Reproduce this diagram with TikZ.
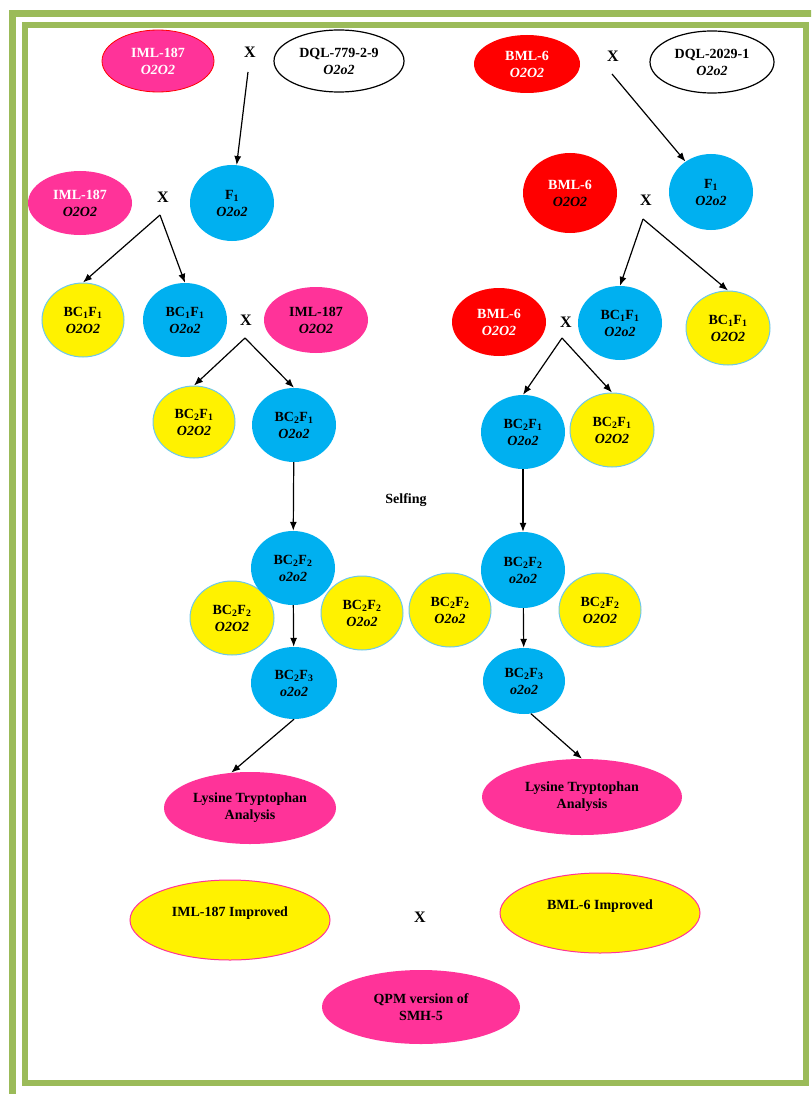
\documentclass[tikz,border=0pt]{standalone}
\usepackage{fontspec}
\setmainfont{Liberation Serif}
\usetikzlibrary{shapes.geometric,arrows.meta}
\definecolor{pinkf}{HTML}{FF3399}
\definecolor{bluef}{HTML}{00B0F0}
\definecolor{ringblue}{HTML}{6CC8EC}
\definecolor{framegreen}{HTML}{9BBB59}
\begin{document}
\begin{tikzpicture}[x=1pt, y=-1pt, >={Latex[length=9pt,width=7pt]},
	every node/.style={font=\fontsize{14}{17}\selectfont\bfseries, align=center},
	egg/.style={ellipse, inner sep=0pt},
	sz/.style 2 args={minimum width=#1pt, minimum height=#2pt},
	pinkegg/.style={egg, fill=pinkf},
	blueegg/.style={egg, fill=bluef},
	yellowegg/.style={egg, fill=yellow, draw=ringblue, line width=1pt},
	redegg/.style={egg, fill=red},
	whiteegg/.style={egg, fill=white, draw=black, line width=1.2pt},
	cross/.style={font=\fontsize{16}{18}\selectfont\bfseries},
	arr/.style={->, line width=1.2pt}]
	% 1. 画布与双层绿色边框
	\useasboundingbox (0,0) rectangle (811,1094);
	\fill[white] (0,0) rectangle (811,1094);
	\begin{scope}
		\clip (0,0) rectangle (811,1094);
		\draw[framegreen, line width=7pt] (12.5,1110) -- (12.5,13.5) -- (830,13.5);
		\draw[framegreen, line width=6pt] (24.5,25.5) rectangle (806,1083);
	\end{scope}
	
	% 2. 左侧：IML-187 回交路线
	\node[pinkegg, draw=red, line width=0.8pt, sz={112}{62}, text=white] (imlA) at (158,61) {IML-187\\\textit{O2O2}};
	\node[cross] (xA) at (250,52) {X};
	\node[whiteegg, sz={130}{62}] (dqlA) at (339,61) {DQL-779-2-9\\\textit{O2o2}};
	\node[blueegg, sz={84}{76}] (fA) at (232,203) {F\textsubscript{1}\\\textit{O2o2}};
	\node[pinkegg, sz={104}{64}] (imlB) at (80,203) {\textcolor{white}{IML-187}\\\textit{O2O2}};
	\node[cross] (xB) at (163,197) {X};
	\node[yellowegg, sz={82}{74}] (bcA) at (83,320) {BC\textsubscript{1}F\textsubscript{1}\\\textit{O2O2}};
	\node[blueegg, sz={84}{74}] (bcB) at (185,320) {BC\textsubscript{1}F\textsubscript{1}\\\textit{O2o2}};
	\node[cross] (xC) at (246,320) {X};
	\node[pinkegg, sz={104}{66}] (imlC) at (316,320) {IML-187\\\textit{O2O2}};
	\node[yellowegg, sz={82}{72}] (bcC) at (194,422) {BC\textsubscript{2}F\textsubscript{1}\\\textit{O2O2}};
	\node[blueegg, sz={84}{74}] (bcD) at (294,425) {BC\textsubscript{2}F\textsubscript{1}\\\textit{O2o2}};
	\node (selfing) at (406,500) {Selfing};
	\node[yellowegg, sz={84}{74}] (bcF) at (232,618) {BC\textsubscript{2}F\textsubscript{2}\\\textit{O2O2}};
	\node[yellowegg, sz={82}{74}] (bcG) at (362,613) {BC\textsubscript{2}F\textsubscript{2}\\\textit{O2o2}};
	\node[blueegg, sz={84}{74}] (bcE) at (293,568) {BC\textsubscript{2}F\textsubscript{2}\\\textit{o2o2}};
	\node[blueegg, sz={86}{72}] (bcH) at (294,683) {BC\textsubscript{2}F\textsubscript{3}\\\textit{o2o2}};
	\node[pinkegg, sz={172}{72}] (lysA) at (250,808) {Lysine Tryptophan\\Analysis};
	
	% 3. 右侧：BML-6 回交路线
	\node[redegg, sz={106}{58}, text=white] (bmlA) at (527,64) {BML-6\\\textit{O2O2}};
	\node[cross] (xD) at (613,56) {X};
	\node[whiteegg, sz={124}{62}] (dqlB) at (712,62) {DQL-2029-1\\\textit{O2o2}};
	\node[blueegg, sz={84}{76}] (fB) at (711,192) {F\textsubscript{1}\\\textit{O2o2}};
	\node[redegg, sz={94}{80}] (bmlB) at (570,193) {\textcolor{white}{BML-6}\\\textit{O2O2}};
	\node[cross] (xE) at (646,200) {X};
	\node[blueegg, sz={84}{74}] (bcI) at (620,323) {BC\textsubscript{1}F\textsubscript{1}\\\textit{O2o2}};
	\node[yellowegg, sz={84}{74}] (bcJ) at (728,328) {BC\textsubscript{1}F\textsubscript{1}\\\textit{O2O2}};
	\node[redegg, sz={94}{68}, text=white] (bmlC) at (499,322) {BML-6\\\textit{O2O2}};
	\node[cross] (xF) at (566,322) {X};
	\node[blueegg, sz={84}{74}] (bcK) at (523,432) {BC\textsubscript{2}F\textsubscript{1}\\\textit{O2o2}};
	\node[yellowegg, sz={84}{74}] (bcL) at (612,430) {BC\textsubscript{2}F\textsubscript{1}\\\textit{O2O2}};
	\node[yellowegg, sz={82}{74}] (bcN) at (450,610) {BC\textsubscript{2}F\textsubscript{2}\\\textit{O2o2}};
	\node[yellowegg, sz={82}{74}] (bcO) at (600,610) {BC\textsubscript{2}F\textsubscript{2}\\\textit{O2O2}};
	\node[blueegg, sz={84}{76}] (bcM) at (523,570) {BC\textsubscript{2}F\textsubscript{2}\\\textit{o2o2}};
	\node[blueegg, sz={82}{66}] (bcP) at (524,681) {BC\textsubscript{2}F\textsubscript{3}\\\textit{o2o2}};
	\node[pinkegg, sz={200}{76}] (lysB) at (582,797) {Lysine Tryptophan\\Analysis};
	
	% 4. 底部：改良系杂交
	\node[egg, fill=yellow, draw=pinkf, line width=1pt, sz={200}{80}, text depth=16pt] (impA) at (230,920) {IML-187 Improved};
	\node[cross] (xG) at (420,917) {X};
	\node[egg, fill=yellow, draw=pinkf, line width=1pt, sz={200}{80}, text depth=16pt] (impB) at (600,913) {BML-6 Improved};
	\node[pinkegg, sz={198}{74}] (qpm) at (421,1007) {QPM version of\\SMH-5};
	
	% 5. 杂交分叉点与箭头
	\coordinate (tA) at (248,72);
	\coordinate (tB) at (160,215);
	\coordinate (tC) at (245,338);
	\coordinate (tD) at (612,74);
	\coordinate (tE) at (643,219);
	\coordinate (tF) at (562,338);
	\draw[arr] (tA) -- (fA);
	\draw[arr] (tB) -- (bcA.north);
	\draw[arr] (tB) -- (bcB.north);
	\draw[arr] (tC) -- (bcC.north);
	\draw[arr] (tC) -- (bcD.north);
	\draw[arr] (bcD) -- (bcE);
	\draw[arr] (bcE) -- (bcH);
	\draw[arr] (bcH.south) -- (lysA.118);
	\draw[arr] (tD) -- (fB);
	\draw[arr] (tE) -- (bcI.north);
	\draw[arr] (tE) -- (bcJ.north);
	\draw[arr] (tF) -- (bcK.north);
	\draw[arr] (tF) -- (bcL.north);
	\draw[arr] (bcK) -- (bcM);
	\draw[arr] (bcM) -- (bcP);
	\draw[arr] (bcP.-78) -- (lysB.north);
	
\end{tikzpicture}
\end{document}
